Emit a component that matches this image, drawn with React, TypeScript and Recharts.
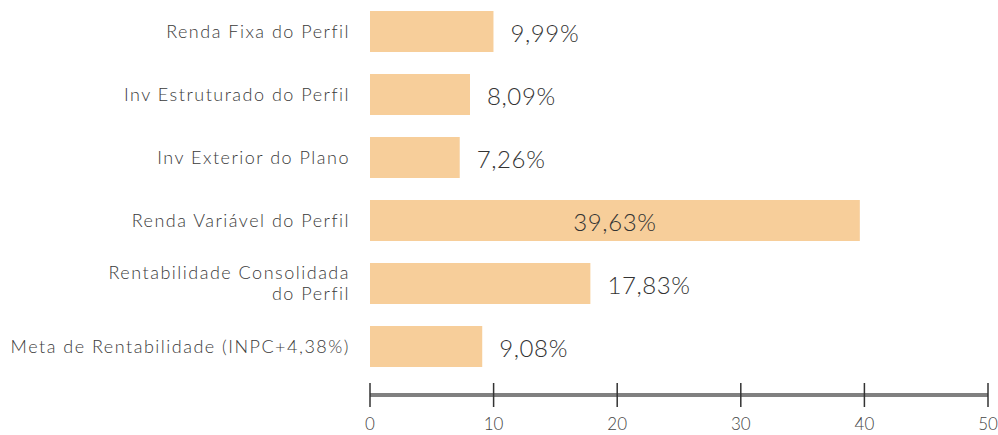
import React from 'react';
import { BarChart, Bar, XAxis, YAxis, LabelList } from 'recharts';

const categories = [
  'Renda Fixa do Perfil',
  'Inv Estruturado do Perfil',
  'Inv Exterior do Plano',
  'Renda Variável do Perfil',
  'Rentabilidade Consolidada\ndo Perfil',
  'Meta de Rentabilidade (INPC+4,38%)',
];
const values = [9.99, 8.09, 7.26, 39.63, 17.83, 9.08];
const xTicks = [0, 10, 20, 30, 40, 50];

const data = categories.map((name, i) => ({ name, value: values[i] }));

const FONT = 'Lato, "Noto Sans", sans-serif';

const fmt = (v: number) => v.toFixed(2).replace('.', ',') + '%';

// category names, right aligned, may wrap over two lines
const CategoryTick = (props: any) => {
  const { x, y, payload } = props;
  const lines = String(payload.value).split('\n');
  const first = -((lines.length - 1) * 21) / 2;
  return (
    <text
      x={x - 20}
      y={y}
      textAnchor="end"
      fill="#3a3a3a"
      fontSize={18}
      fontWeight={300}
      letterSpacing={1.5}
      fontFamily={FONT}
    >
      {lines.map((l, i) => (
        <tspan key={i} x={x - 20} dy={i === 0 ? first + 6 : 21}>
          {l}
        </tspan>
      ))}
    </text>
  );
};

// axis ticks cross the axis line on both sides
const ValueTick = (props: any) => {
  const { x, y, payload } = props;
  return (
    <g>
      <line x1={x} x2={x} y1={y - 12} y2={y + 12} stroke="#333" strokeWidth={1.5} />
      <text x={x} y={y + 35} textAnchor="middle" fill="#444" fontSize={17} fontWeight={300} fontFamily={FONT}>
        {payload.value}
      </text>
    </g>
  );
};

const ValueLabel = (props: any) => {
  const { x, y, width, height, value } = props;
  const inside = value > 30;
  return (
    <text
      x={inside ? x + width / 2 : x + width + 17}
      y={y + height / 2 + 1}
      textAnchor={inside ? 'middle' : 'start'}
      dominantBaseline="central"
      fill="#333"
      fontSize={24}
      fontWeight={300}
      letterSpacing={0.6}
      fontFamily={FONT}
    >
      {fmt(value)}
    </text>
  );
};

export default function App() {
  return (
    <div style={{ position: 'absolute', left: 0, top: 0, background: '#fff' }}>
      <BarChart
        width={998}
        height={435}
        data={data}
        layout="vertical"
        margin={{ top: 0, right: 10, bottom: 0, left: 0 }}
        barSize={41}
      >
        <XAxis
          type="number"
          domain={[0, 50]}
          ticks={xTicks}
          interval={0}
          height={40}
          tickSize={0}
          tickMargin={0}
          tickLine={false}
          axisLine={{ stroke: '#808080', strokeWidth: 4 }}
          tick={<ValueTick />}
        />
        <YAxis
          type="category"
          dataKey="name"
          width={370}
          axisLine={false}
          tickLine={false}
          tickSize={0}
          tickMargin={0}
          interval={0}
          padding={{ top: 0, bottom: 17 }}
          tick={<CategoryTick />}
        />
        <Bar dataKey="value" fill="#F7CE9A" isAnimationActive={false}>
          <LabelList dataKey="value" content={<ValueLabel />} />
        </Bar>
      </BarChart>
    </div>
  );
}
